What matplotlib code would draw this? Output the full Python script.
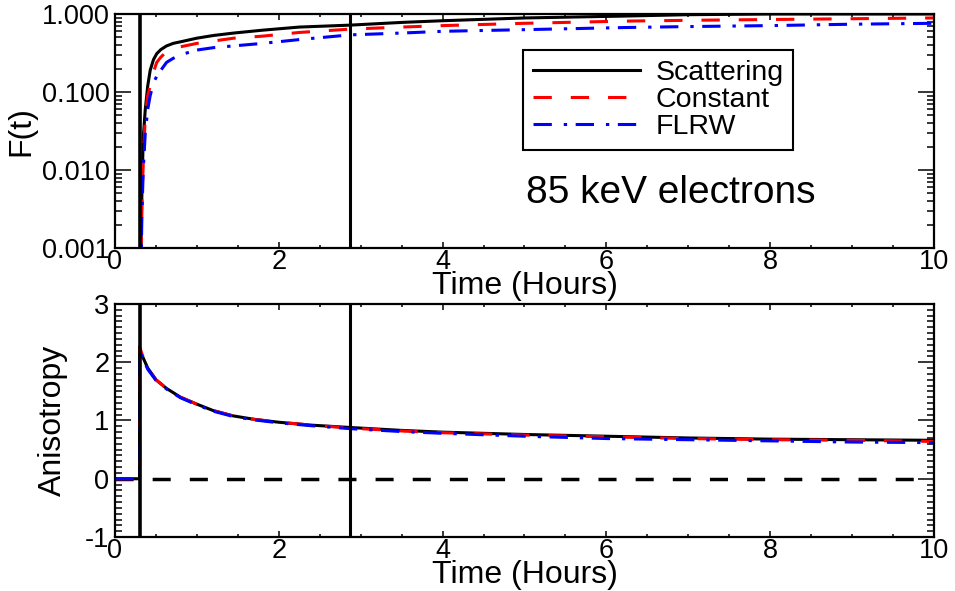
import matplotlib
matplotlib.use('Agg')
import matplotlib.pyplot as plt
from matplotlib.ticker import MultipleLocator, LogLocator, FormatStrFormatter, NullFormatter

plt.rcParams['font.family'] = ['Liberation Sans', 'DejaVu Sans']
plt.rcParams['axes.unicode_minus'] = False

# --- data ---
onset_t = 0.30
marker_t = 2.87

t_F = [0.30, 0.31, 0.32, 0.33, 0.345, 0.37, 0.40, 0.43, 0.47, 0.51, 0.56, 0.63,
       0.71, 0.80, 1.0, 1.2, 1.45, 1.8, 2.25, 2.87, 3.5, 4.0, 5.0, 6.2, 7.0,
       8.0, 9.0, 10.0]
F_scat = [1e-5, 0.0004, 0.0015, 0.006, 0.026, 0.06, 0.12, 0.19, 0.26, 0.31, 0.35,
          0.39, 0.42, 0.44, 0.49, 0.53, 0.57, 0.62, 0.68, 0.72, 0.78, 0.82, 0.89,
          0.94, 0.98, 1.0, 1.0, 1.0]
F_const = [1e-5, 0.0003, 0.001, 0.004, 0.012, 0.05, 0.09, 0.12, 0.18, 0.24, 0.28,
           0.33, 0.36, 0.38, 0.42, 0.45, 0.49, 0.52, 0.58, 0.64, 0.68, 0.71, 0.76,
           0.81, 0.83, 0.85, 0.87, 0.89]
F_flrw = [1e-5, 0.0002, 0.0008, 0.003, 0.01, 0.03, 0.06, 0.09, 0.13, 0.16, 0.19,
          0.24, 0.27, 0.30, 0.345, 0.37, 0.39, 0.42, 0.47, 0.54, 0.57, 0.60, 0.63,
          0.67, 0.69, 0.71, 0.74, 0.76]

t_A = [0.0, 0.30, 0.30, 0.33, 0.40, 0.50, 0.63, 0.80, 1.0, 1.2, 1.44, 1.7, 2.0,
       2.4, 2.87, 3.5, 4.0, 5.0, 6.0, 7.0, 8.0, 9.0, 10.0]
A_scat = [0.0, 0.0, 2.20, 2.12, 1.90, 1.70, 1.55, 1.40, 1.28, 1.17, 1.08, 1.02,
          0.97, 0.92, 0.88, 0.83, 0.80, 0.76, 0.73, 0.70, 0.68, 0.67, 0.66]
A_const = [0.0, 0.0, 2.27, 2.14, 1.90, 1.70, 1.55, 1.40, 1.28, 1.17, 1.08, 1.02,
           0.97, 0.92, 0.87, 0.82, 0.79, 0.75, 0.72, 0.69, 0.67, 0.66, 0.64]
A_flrw = [0.0, 0.0, 2.20, 2.10, 1.88, 1.69, 1.54, 1.39, 1.27, 1.16, 1.07, 1.01,
          0.96, 0.91, 0.86, 0.81, 0.78, 0.73, 0.69, 0.67, 0.65, 0.63, 0.62]

labels = ['Scattering', 'Constant', 'FLRW']

# styles
c_scat, c_const, c_flrw = 'black', '#ff0000', '#0000ff'
ls_const = (0, (6, 6.2))
ls_flrw = (0, (6, 3.9, 1.1, 2.8))
lw = 2.2

fig = plt.figure(figsize=(9.55, 5.91), dpi=100)
ax1 = fig.add_axes([0.1204, 0.5804, 0.8576, 0.3959])
ax2 = fig.add_axes([0.1204, 0.0914, 0.8576, 0.3942])

# top panel
ax1.plot(t_F, F_scat, color=c_scat, lw=lw, ls='-', label=labels[0])
ax1.plot(t_F, F_const, color=c_const, lw=lw, ls=ls_const, label=labels[1])
ax1.plot(t_F, F_flrw, color=c_flrw, lw=lw, ls=ls_flrw, label=labels[2])
ax1.set_yscale('log')
ax1.set_ylim(0.001, 1.0)
ax1.yaxis.set_major_locator(LogLocator(base=10, numticks=10))
ax1.yaxis.set_minor_locator(LogLocator(base=10, subs=range(2, 10), numticks=20))
ax1.yaxis.set_major_formatter(FormatStrFormatter('%.3f'))
ax1.yaxis.set_minor_formatter(NullFormatter())
ax1.set_ylabel('F(t)', fontsize=23, labelpad=4)

leg = ax1.legend(loc='upper left', bbox_to_anchor=(0.498, 0.846), borderaxespad=0,
                 fontsize=20.5, handlelength=3.75, handletextpad=0.55, labelspacing=0.03,
                 borderpad=0.35, fancybox=False, framealpha=1)
leg.get_frame().set_edgecolor('black')
leg.get_frame().set_linewidth(1.5)

ax1.text(0.678, 0.235, '85 keV electrons', transform=ax1.transAxes, fontsize=28,
         ha='center', va='center')

# bottom panel
ax2.axhline(0, color='black', lw=2.5, ls=(0, (5.2, 5.5)), zorder=1)
ax2.plot(t_A, A_scat, color=c_scat, lw=lw, ls='-')
ax2.plot(t_A, A_const, color=c_const, lw=lw, ls=ls_const)
ax2.plot(t_A, A_flrw, color=c_flrw, lw=lw, ls=ls_flrw)
ax2.set_ylim(-1, 3)
ax2.yaxis.set_major_locator(MultipleLocator(1))
ax2.yaxis.set_minor_locator(MultipleLocator(0.1))
ax2.set_ylabel('Anisotropy', fontsize=23, labelpad=12)

for ax in (ax1, ax2):
    ax.axvline(onset_t, color='black', lw=2.6, zorder=5)
    ax.axvline(marker_t, color='black', lw=2.2, zorder=5)
    ax.set_xlim(0, 10)
    ax.xaxis.set_major_locator(MultipleLocator(2))
    ax.xaxis.set_minor_locator(MultipleLocator(0.5))
    ax.set_xlabel('Time (Hours)', fontsize=23, labelpad=-3)
    ax.tick_params(axis='both', which='both', direction='in', top=True, right=True,
                   labelsize=19.5, width=1.1)
    ax.tick_params(axis='x', which='major', length=4, pad=1)
    ax.tick_params(axis='x', which='minor', length=2.5)
    ax.tick_params(axis='y', which='major', length=11.5, pad=4)
    ax.tick_params(axis='y', which='minor', length=5)
    for s in ax.spines.values():
        s.set_linewidth(1.6)

fig.savefig('out.png', dpi=100, facecolor='white')
